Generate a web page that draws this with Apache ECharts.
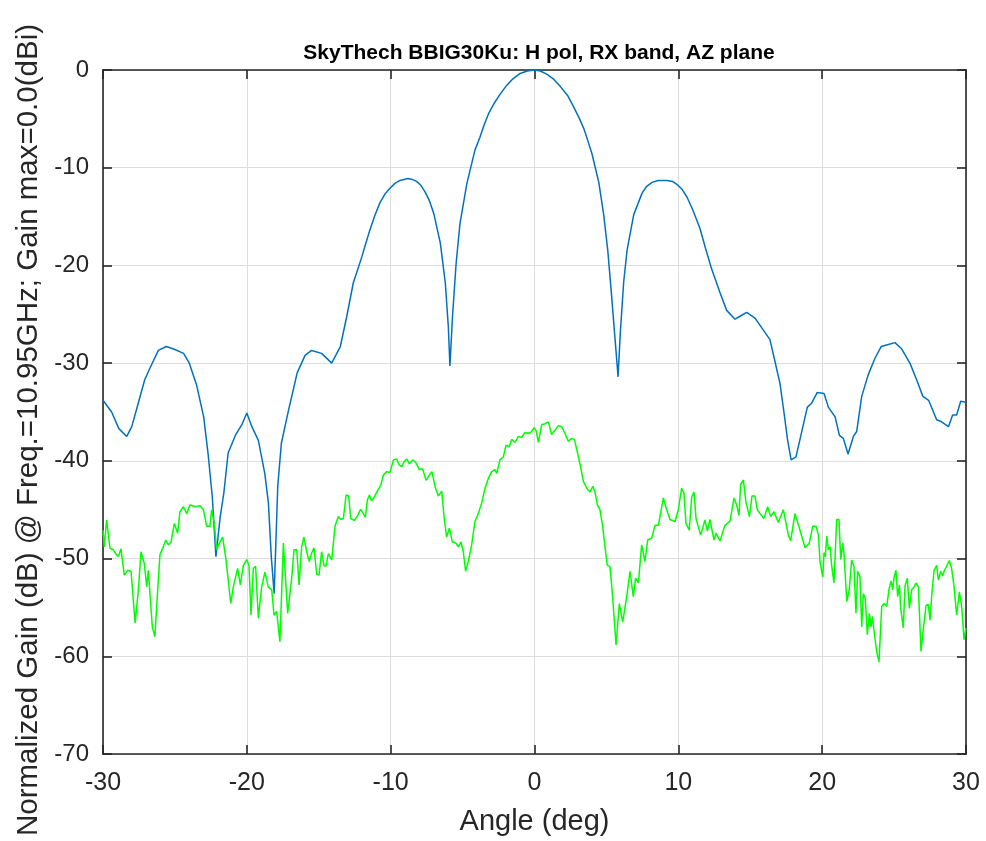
<!DOCTYPE html>
<html lang="en">
<head>
<meta charset="utf-8">
<title>BBIG30Ku AZ plane</title>
<script src="https://cdn.jsdelivr.net/npm/echarts@6/dist/echarts.min.js"></script>
<style>
  html, body { margin: 0; padding: 0; background: #fff; }
  #chart { width: 986px; height: 841px; }
</style>
</head>
<body>
<div id="chart"></div>
<script>
// co-polar (blue) cut
var blueAngle = [-30.0, -29.4, -28.9, -28.35, -28.0, -27.55, -27.1, -26.7, -26.15, -25.6, -25.0, -24.4, -24.0, -23.5, -23.0, -22.7, -22.4, -22.15, -21.85, -21.6,
  -21.3, -20.8, -20.35, -20.0, -19.65, -19.2, -18.75, -18.5, -18.3, -18.1, -17.85, -17.6, -17.1, -16.5, -15.95, -15.5, -14.8, -14.1, -13.5, -13.05,
  -12.6, -12.0, -11.7, -11.45, -11.1, -10.75, -10.4, -10.05, -9.7, -9.35, -8.8, -8.5, -8.2, -7.9, -7.6, -7.3, -7.0, -6.55, -6.2, -5.99,
  -5.88, -5.7, -5.45, -5.18, -4.7, -4.14, -3.8, -3.5, -3.2, -2.8, -2.4, -2.0, -1.5, -1.0, -0.5, 0, 0.4, 0.88, 1.3, 1.8,
  2.3, 2.73, 3.1, 3.43, 3.7, 4.0, 4.47, 4.81, 5.09, 5.32, 5.56, 5.81, 5.97, 6.2, 6.44, 6.9, 7.48, 7.8, 8.17, 8.6,
  9.2, 9.6, 9.9, 10.25, 10.6, 11.0, 11.5, 11.9, 12.3, 12.9, 13.36, 13.94, 14.29, 14.75, 15.33, 15.9, 16.37, 16.7, 17.07, 17.35,
  17.6, 17.84, 18.18, 18.58, 18.97, 19.27, 19.66, 20.13, 20.43, 20.9, 21.2, 21.47, 21.8, 22.17, 22.4, 22.75, 23.2, 23.67, 24.1, 24.6,
  25.06, 25.5, 26.1, 26.57, 27.0, 27.4, 27.96, 28.3, 28.78, 29.07, 29.35, 29.63, 30.0];
var blueGain = [-33.8, -35.0, -36.7, -37.5, -36.5, -34.1, -31.7, -30.4, -28.7, -28.3, -28.6, -29.0, -30.0, -32.2, -35.5, -39.2, -43.7, -49.8, -45.7, -43.3,
  -39.2, -37.4, -36.3, -35.1, -36.5, -37.9, -41.3, -44.3, -49.8, -53.6, -42.6, -38.2, -34.8, -31.0, -29.2, -28.7, -29.0, -30.0, -28.3, -25.2,
  -21.8, -19.1, -17.6, -16.4, -14.9, -13.6, -12.7, -12.1, -11.6, -11.3, -11.1, -11.2, -11.4, -11.8, -12.5, -13.4, -14.7, -17.7, -21.8, -26.3,
  -30.3, -25.2, -19.8, -15.7, -11.6, -8.2, -6.9, -5.6, -4.5, -3.4, -2.5, -1.7, -0.9, -0.35, -0.1, 0, -0.1, -0.45, -0.9, -1.7,
  -2.6, -3.8, -4.9, -6.0, -7.2, -8.6, -11.5, -14.8, -18.4, -22.4, -26.8, -31.4, -26.8, -21.7, -18.4, -14.8, -12.6, -11.9, -11.5, -11.3,
  -11.3, -11.4, -11.7, -12.2, -13.0, -14.3, -16.2, -18.3, -20.3, -22.8, -24.6, -25.5, -25.2, -24.8, -25.4, -26.6, -27.6, -29.7, -32.1, -35.1,
  -37.9, -39.9, -39.6, -37.0, -34.5, -34.1, -33.0, -33.1, -34.5, -35.5, -37.4, -37.7, -39.3, -37.5, -37.0, -33.4, -31.2, -29.5, -28.3, -28.1,
  -27.9, -28.5, -30.0, -31.7, -33.4, -33.8, -35.8, -36.0, -36.5, -35.3, -35.3, -33.9, -34.0];

// cross-polar (green) cut
var greenAngle = [-30.0, -29.91, -29.75, -29.63, -29.51, -29.28, -29.12, -28.93, -28.75, -28.52, -28.29, -28.05, -27.77, -27.54, -27.36, -27.13, -26.96, -26.85, -26.73, -26.57,
  -26.39, -26.27, -26.04, -25.81, -25.64, -25.46, -25.27, -25.04, -24.81, -24.65, -24.41, -24.18, -23.95, -23.6, -23.26, -23.02, -22.79, -22.56, -22.45, -22.26,
  -22.1, -21.87, -21.68, -21.45, -21.29, -21.12, -20.94, -20.64, -20.45, -20.24, -20.01, -19.85, -19.71, -19.55, -19.39, -19.2, -18.97, -18.74, -18.51, -18.27,
  -18.11, -17.93, -17.7, -17.46, -17.16, -16.88, -16.72, -16.53, -16.37, -16.19, -16.03, -15.84, -15.66, -15.49, -15.33, -15.14, -14.98, -14.8, -14.64, -14.5,
  -14.33, -14.1, -13.87, -13.64, -13.48, -13.29, -13.1, -12.92, -12.78, -12.53, -12.32, -12.09, -11.9, -11.76, -11.62, -11.48, -11.32, -11.14, -10.93, -10.69,
  -10.51, -10.28, -10.05, -9.81, -9.58, -9.42, -9.23, -9.07, -8.89, -8.7, -8.47, -8.24, -8.01, -7.78, -7.54, -7.31, -7.13, -6.92, -6.69, -6.45,
  -6.29, -6.11, -5.92, -5.71, -5.48, -5.3, -5.11, -4.95, -4.79, -4.6, -4.37, -4.14, -3.91, -3.67, -3.44, -3.21, -2.98, -2.75, -2.63, -2.4,
  -2.17, -1.98, -1.75, -1.59, -1.36, -1.12, -0.89, -0.66, -0.43, -0.2, -0.03, 0.11, 0.27, 0.5, 0.73, 0.96, 1.19, 1.43, 1.66, 1.89,
  2.12, 2.35, 2.58, 2.77, 2.98, 3.16, 3.4, 3.63, 3.86, 4.05, 4.21, 4.37, 4.55, 4.74, 4.9, 5.06, 5.25, 5.43, 5.67, 5.9,
  6.13, 6.41, 6.64, 6.87, 7.03, 7.22, 7.45, 7.68, 7.87, 8.15, 8.38, 8.61, 8.96, 9.19, 9.42, 9.77, 10.0, 10.23, 10.39, 10.53,
  10.76, 10.93, 11.09, 11.23, 11.55, 11.85, 12.02, 12.2, 12.48, 12.62, 12.9, 13.24, 13.59, 13.87, 14.05, 14.22, 14.33, 14.52, 14.7, 14.94,
  15.12, 15.33, 15.49, 15.68, 15.95, 16.21, 16.42, 16.65, 16.95, 17.3, 17.65, 17.81, 18.11, 18.46, 18.81, 19.11, 19.34, 19.57, 19.74, 19.85,
  20.04, 20.13, 20.22, 20.32, 20.43, 20.55, 20.66, 20.82, 21.01, 21.17, 21.29, 21.43, 21.52, 21.71, 21.89, 22.05, 22.21, 22.35, 22.47, 22.63,
  22.75, 22.86, 23.0, 23.14, 23.28, 23.4, 23.49, 23.68, 23.79, 23.95, 24.14, 24.3, 24.49, 24.65, 24.79, 24.9, 25.0, 25.13, 25.25, 25.37,
  25.46, 25.64, 25.76, 25.92, 26.06, 26.22, 26.39, 26.53, 26.69, 26.87, 27.04, 27.22, 27.38, 27.5, 27.61, 27.78, 27.96, 28.08, 28.24, 28.38,
  28.5, 28.66, 28.84, 29.0, 29.17, 29.35, 29.54, 29.7, 29.86, 30.0];
var greenGain = [-47.1, -48.8, -46.05, -45.9, -48.95, -49.1, -49.5, -49.8, -49.0, -51.7, -51.2, -51.3, -56.6, -53.2, -49.3, -50.5, -52.9, -51.2, -53.7, -57.0,
  -58.0, -54.9, -49.6, -48.8, -48.1, -48.6, -48.3, -46.4, -47.4, -45.2, -44.7, -45.4, -44.5, -44.7, -44.6, -45.0, -46.7, -46.7, -45.0, -46.4,
  -49.1, -48.3, -47.8, -50.1, -52.2, -54.6, -52.9, -51.0, -52.7, -50.7, -50.1, -50.7, -55.8, -51.0, -50.8, -56.1, -52.9, -51.4, -52.9, -53.2,
  -55.8, -55.4, -58.5, -48.4, -55.6, -52.0, -49.1, -49.1, -52.7, -48.8, -47.8, -49.3, -50.3, -49.4, -48.9, -51.6, -51.7, -49.3, -50.7, -50.8,
  -49.5, -50.15, -46.7, -45.7, -46.0, -45.9, -43.5, -43.6, -45.9, -46.1, -45.65, -44.96, -45.4, -45.8, -44.0, -43.5, -44.1, -43.7, -43.1, -42.5,
  -41.45, -41.1, -41.2, -39.9, -39.8, -40.4, -40.6, -40.1, -39.8, -40.3, -39.9, -40.2, -40.9, -40.8, -42.0, -41.45, -41.1, -42.6, -43.6, -43.1,
  -45.7, -47.8, -46.9, -48.3, -48.4, -48.8, -48.3, -49.3, -51.3, -50.3, -48.6, -46.2, -45.4, -44.3, -42.8, -41.8, -41.1, -40.9, -41.3, -39.9,
  -39.6, -38.4, -38.55, -37.8, -38.1, -37.5, -37.6, -37.1, -37.2, -37.0, -36.6, -36.9, -38.1, -36.3, -36.2, -36.0, -37.3, -36.85, -36.4, -36.5,
  -37.2, -38.0, -37.7, -37.8, -39.1, -40.3, -42.1, -42.8, -43.2, -42.6, -43.2, -44.5, -45.0, -46.7, -48.8, -50.7, -50.8, -53.9, -58.85, -54.6,
  -56.5, -53.9, -51.3, -53.9, -52.0, -52.5, -48.6, -50.3, -48.1, -47.9, -46.6, -46.6, -43.8, -45.0, -46.0, -46.2, -45.0, -42.8, -43.3, -46.4,
  -47.1, -43.7, -43.2, -45.9, -47.6, -46.05, -47.2, -46.0, -48.1, -47.4, -48.2, -46.6, -46.2, -43.8, -44.5, -45.6, -42.4, -41.96, -44.2, -45.7,
  -43.6, -43.6, -45.0, -45.4, -45.9, -44.7, -45.7, -45.2, -46.3, -45.0, -47.6, -48.2, -45.4, -47.1, -48.9, -48.4, -46.7, -46.7, -47.6, -50.3,
  -51.9, -49.4, -49.8, -47.7, -49.1, -48.8, -50.7, -52.5, -46.0, -46.0, -50.1, -48.4, -49.5, -54.4, -53.1, -50.15, -50.8, -55.6, -51.3, -51.9,
  -57.0, -53.6, -54.1, -57.8, -55.6, -57.0, -55.9, -58.3, -59.5, -60.6, -54.9, -54.6, -54.9, -53.1, -52.3, -53.2, -51.9, -51.2, -53.9, -52.7,
  -55.1, -57.1, -52.8, -52.0, -55.1, -53.2, -52.9, -52.5, -52.9, -59.5, -57.1, -54.8, -54.7, -56.3, -53.9, -51.2, -50.7, -52.2, -51.3, -51.8,
  -51.2, -50.8, -50.2, -51.0, -52.9, -55.8, -53.4, -54.9, -58.3, -57.1];

var xTicks = [-30, 30, 10];   // min, max, step
var yTicks = [-70, 0, 10];

function pairs(xs, ys) {
  var out = [];
  for (var i = 0; i < xs.length; i++) out.push([xs[i], ys[i]]);
  return out;
}

var chart = echarts.init(document.getElementById('chart'), null, { renderer: 'canvas' });
var fontFam = '"Liberation Sans", Arial, sans-serif';
var ink = '#262626';

function xAx(pos, show) {
  return {
    type: 'value', position: pos, min: xTicks[0], max: xTicks[1], interval: xTicks[2],
    name: show ? 'Angle (deg)' : '', nameLocation: 'middle', nameGap: 53,
    nameTextStyle: { fontFamily: fontFam, fontSize: 29, color: ink },
    axisLine: { show: true, onZero: false, lineStyle: { color: ink, width: 1.6 } },
    axisTick: { show: true, inside: true, length: 9, lineStyle: { color: ink, width: 1.6 } },
    axisLabel: { show: show, margin: 17, fontFamily: fontFam, fontSize: 25, color: ink },
    splitLine: { show: show, lineStyle: { color: '#dedede', width: 1 } }
  };
}
function yAx(pos, show) {
  return {
    type: 'value', position: pos, min: yTicks[0], max: yTicks[1], interval: yTicks[2],
    name: show ? 'Normalized Gain (dB) @ Freq.=10.95GHz; Gain max=0.0(dBi)' : '',
    nameLocation: 'middle', nameGap: 59,
    // padding pushes the rotated label a little down, as in the source figure
    nameTextStyle: { fontFamily: fontFam, fontSize: 29.5, color: ink, padding: [0, 36, 0, 0] },
    axisLine: { show: true, onZero: false, lineStyle: { color: ink, width: 1.6 } },
    axisTick: { show: true, inside: true, length: 9, lineStyle: { color: ink, width: 1.6 } },
    axisLabel: { show: show, margin: 14, fontFamily: fontFam, fontSize: 24, color: ink },
    splitLine: { show: show, lineStyle: { color: '#dedede', width: 1 } }
  };
}

chart.setOption({
  animation: false,
  backgroundColor: '#ffffff',
  title: {
    text: 'SkyThech BBIG30Ku: H pol, RX band, AZ plane',
    left: 534, top: 38, textAlign: 'center',
    textStyle: { fontFamily: fontFam, fontSize: 21, fontWeight: 'bold', color: '#000' }
  },
  grid: { left: 103, right: 20, top: 70, bottom: 87, containLabel: false },
  xAxis: [xAx('bottom', true), xAx('top', false)],
  yAxis: [yAx('left', true), yAx('right', false)],
  series: [
    {
      type: 'line', name: 'co-pol', data: pairs(blueAngle, blueGain),
      showSymbol: false, smooth: false,
      lineStyle: { color: '#0072BD', width: 1.5 }
    },
    {
      type: 'line', name: 'cross-pol', data: pairs(greenAngle, greenGain),
      showSymbol: false, smooth: false,
      lineStyle: { color: '#00FF00', width: 1.5 }
    }
  ]
});
</script>
</body>
</html>
